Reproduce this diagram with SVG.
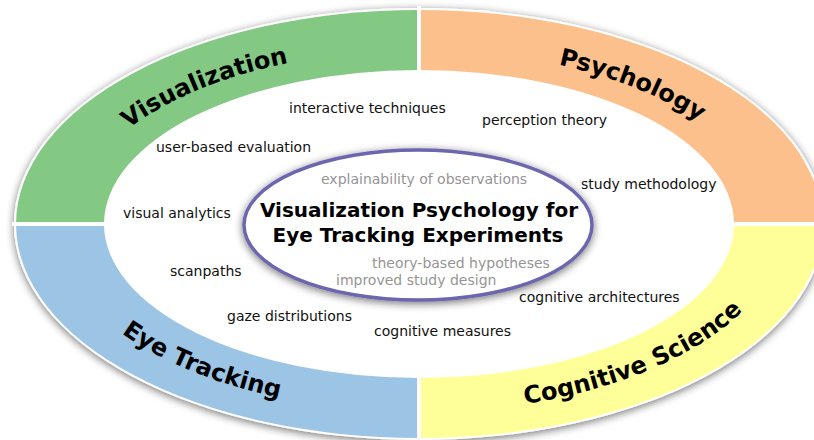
<svg xmlns="http://www.w3.org/2000/svg" xmlns:xlink="http://www.w3.org/1999/xlink" width="814" height="440" viewBox="0 0 814 440">
  <style>
    text { font-family: "DejaVu Sans", Verdana, sans-serif; }
    .title { font-size: 24px; font-weight: bold; fill: #000; }
    .lbl { font-size: 14px; fill: #111; }
    .gray { font-size: 14px; fill: #959595; }
    .main { font-size: 20px; font-weight: bold; fill: #000; text-anchor: middle; }
    .div { stroke: #fff; stroke-width: 4; }
  </style>
  <defs>
    <filter id="shadow" x="-10%" y="-10%" width="120%" height="120%">
      <feGaussianBlur in="SourceAlpha" stdDeviation="4"/>
      <feOffset dx="0" dy="2" result="b"/>
      <feComponentTransfer><feFuncA type="linear" slope="0.55"/></feComponentTransfer>
      <feMerge><feMergeNode/><feMergeNode in="SourceGraphic"/></feMerge>
    </filter>
    <path id="topArc" d="M72,224 A347,174 0 0 1 766,224" fill="none"/>
    <path id="botArc" d="M54,224 A365,188 0 0 0 784,224" fill="none"/>
  </defs>

  <rect width="814" height="440" fill="#fff"/>

  <g id="ring">
    <ellipse cx="419" cy="224" rx="405" ry="216" fill="#fff" filter="url(#shadow)"/>
    <g id="visualization">
      <path d="M419,224 L16,224 A403,214 0 0 1 419,10 Z" fill="#83C984"/>
    </g>
    <g id="psychology">
      <path d="M419,224 L419,10 A403,214 0 0 1 822,224 Z" fill="#FBC08B"/>
    </g>
    <g id="cognitive-science">
      <path d="M419,224 L822,224 A403,214 0 0 1 419,438 Z" fill="#FFFF99"/>
    </g>
    <g id="eye-tracking">
      <path d="M419,224 L419,438 A403,214 0 0 1 16,224 Z" fill="#9BC4E5"/>
    </g>
    <line class="div" x1="419" y1="6" x2="419" y2="440"/>
    <line class="div" x1="12" y1="224" x2="814" y2="224"/>
    <ellipse cx="419" cy="224" rx="315" ry="154" fill="#fff"/>
  </g>

  <g id="titles">
    <text class="title"><textPath xlink:href="#topArc" href="#topArc" startOffset="202" text-anchor="middle">Visualization</textPath></text>
    <text class="title"><textPath xlink:href="#topArc" href="#topArc" startOffset="637" text-anchor="middle">Psychology</textPath></text>
    <text class="title"><textPath xlink:href="#botArc" href="#botArc" startOffset="219" text-anchor="middle">Eye Tracking</textPath></text>
    <text class="title"><textPath xlink:href="#botArc" href="#botArc" startOffset="672" text-anchor="middle">Cognitive Science</textPath></text>
  </g>

  <g id="labels">
    <text class="lbl" x="289" y="113">interactive techniques</text>
    <text class="lbl" x="156" y="152">user-based evaluation</text>
    <text class="lbl" x="123" y="218">visual analytics</text>
    <text class="lbl" x="482" y="125">perception theory</text>
    <text class="lbl" x="581" y="189">study methodology</text>
    <text class="lbl" x="170" y="276">scanpaths</text>
    <text class="lbl" x="227" y="321">gaze distributions</text>
    <text class="lbl" x="374" y="336">cognitive measures</text>
    <text class="lbl" x="519" y="302">cognitive architectures</text>
  </g>

  <g id="center">
    <ellipse cx="418" cy="225" rx="174" ry="75" fill="#fff" stroke="#6C66AE" stroke-width="3.5" filter="url(#shadow)"/>
    <text class="gray" x="321" y="184">explainability of observations</text>
    <text class="main" x="419" y="217">Visualization Psychology for</text>
    <text class="main" x="418" y="242">Eye Tracking Experiments</text>
    <text class="gray" x="372" y="268">theory-based hypotheses</text>
    <text class="gray" x="336" y="285">improved study design</text>
  </g>
</svg>
